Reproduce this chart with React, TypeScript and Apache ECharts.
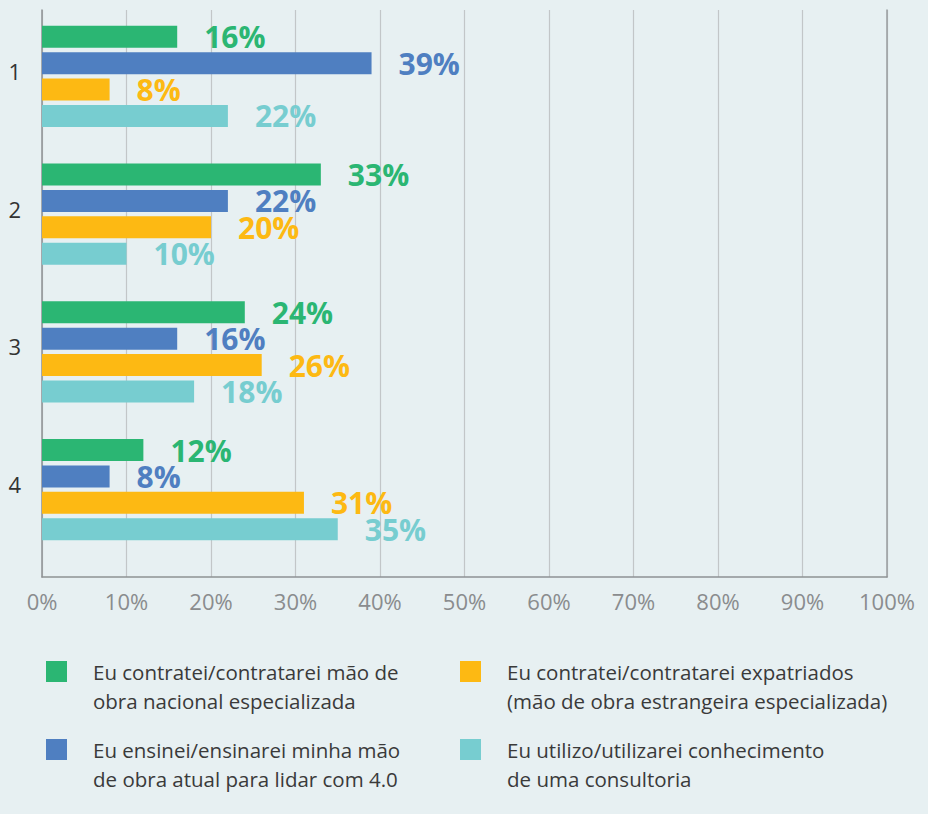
import React, { useEffect, useRef } from "react";
import * as echarts from "echarts";

const categories = ["1", "2", "3", "4"];
const seriesNames = [
  "Eu contratei/contratarei mão de\nobra nacional especializada",
  "Eu ensinei/ensinarei minha mão\nde obra atual para lidar com 4.0",
  "Eu contratei/contratarei expatriados\n(mão de obra estrangeira especializada)",
  "Eu utilizo/utilizarei conhecimento\nde uma consultoria",
];
const nacional = [16, 33, 24, 12];
const ensinei = [39, 22, 16, 8];
const expatriados = [8, 20, 26, 31];
const consultoria = [22, 10, 18, 35];
const seriesValues = [nacional, ensinei, expatriados, consultoria];
const seriesColors = ["#2bb673", "#4f7fc1", "#fdb913", "#77cdd0"];
const xMin = 0;
const xMax = 100;
const xStep = 10;

const FONT = "'Open Sans', 'Noto Sans', sans-serif";
const BG = "#e7f0f2";

export default function App() {
  const ref = useRef<HTMLDivElement>(null);
  useEffect(() => {
    document.body.style.margin = "0";
    document.body.style.background = BG;
    const chart = echarts.init(ref.current!, null, { renderer: "svg" });
    const legendBase = {
      orient: "vertical",
      top: 628,
      padding: 0,
      itemWidth: 21,
      itemHeight: 21,
      itemGap: -9,
      icon: "rect",
      selectedMode: false,
      formatter: (name: string) => "\n" + name,
      textStyle: {
        fontSize: 20.5,
        lineHeight: 29,
        color: "#3a3a3a",
        fontFamily: FONT,
        padding: [0, 0, 0, 21],
      },
    };
    chart.setOption({
      animation: false,
      backgroundColor: BG,
      textStyle: { fontFamily: FONT },
      grid: [
        { left: 42, right: 41, top: 10, bottom: 237 },
        { left: 42, right: 41, top: 7.5, height: 551 },
      ],
      xAxis: [
        {
          gridIndex: 0,
          type: "value",
          min: xMin,
          max: xMax,
          interval: xStep,
          axisLine: { show: true, lineStyle: { color: "#8e9294", width: 1.5 } },
          axisTick: { show: false },
          axisLabel: {
            formatter: "{value}%",
            color: "#8a8c8e",
            fontSize: 22,
            margin: 13,
            fontFamily: FONT,
          },
          splitLine: { show: true, lineStyle: { color: "#c2c6c8", width: 1.2 } },
        },
        { gridIndex: 1, type: "value", min: xMin, max: xMax, show: false },
      ],
      yAxis: [
        {
          gridIndex: 0,
          type: "value",
          position: "left",
          min: 0,
          max: 1,
          axisLine: { show: true, lineStyle: { color: "#8e9294", width: 1.5 } },
          axisTick: { show: false },
          axisLabel: { show: false },
          splitLine: { show: false },
        },
        {
          gridIndex: 1,
          type: "category",
          data: categories,
          inverse: true,
          axisLine: { show: false },
          axisTick: { show: false },
          splitLine: { show: false },
          axisLabel: {
            color: "#333333",
            fontSize: 22,
            margin: 21,
            verticalAlign: "bottom",
            lineHeight: 11,
            fontFamily: FONT,
          },
        },
        {
          gridIndex: 0,
          type: "value",
          position: "right",
          min: 0,
          max: 1,
          axisLine: { show: true, lineStyle: { color: "#9a9ea0", width: 1.5 } },
          axisTick: { show: false },
          axisLabel: { show: false },
          splitLine: { show: false },
        },
      ],
      legend: [
        { ...legendBase, left: 46, data: [seriesNames[0], seriesNames[1]] },
        { ...legendBase, left: 460, data: [seriesNames[2], seriesNames[3]] },
      ],
      series: seriesNames.map((name, i) => ({
        name,
        type: "bar",
        xAxisIndex: 1,
        yAxisIndex: 1,
        data: seriesValues[i],
        barWidth: 22,
        barGap: "20%",
        itemStyle: { color: seriesColors[i] },
        label: {
          show: true,
          position: "right",
          distance: 27,
          formatter: "{c}%",
          color: seriesColors[i],
          fontSize: 30,
          fontWeight: "bold",
          fontFamily: FONT,
        },
      })),
    });
    return () => chart.dispose();
  }, []);
  return (
    <div
      ref={ref}
      style={{ position: "absolute", left: 0, top: 0, width: 928, height: 814 }}
    />
  );
}
